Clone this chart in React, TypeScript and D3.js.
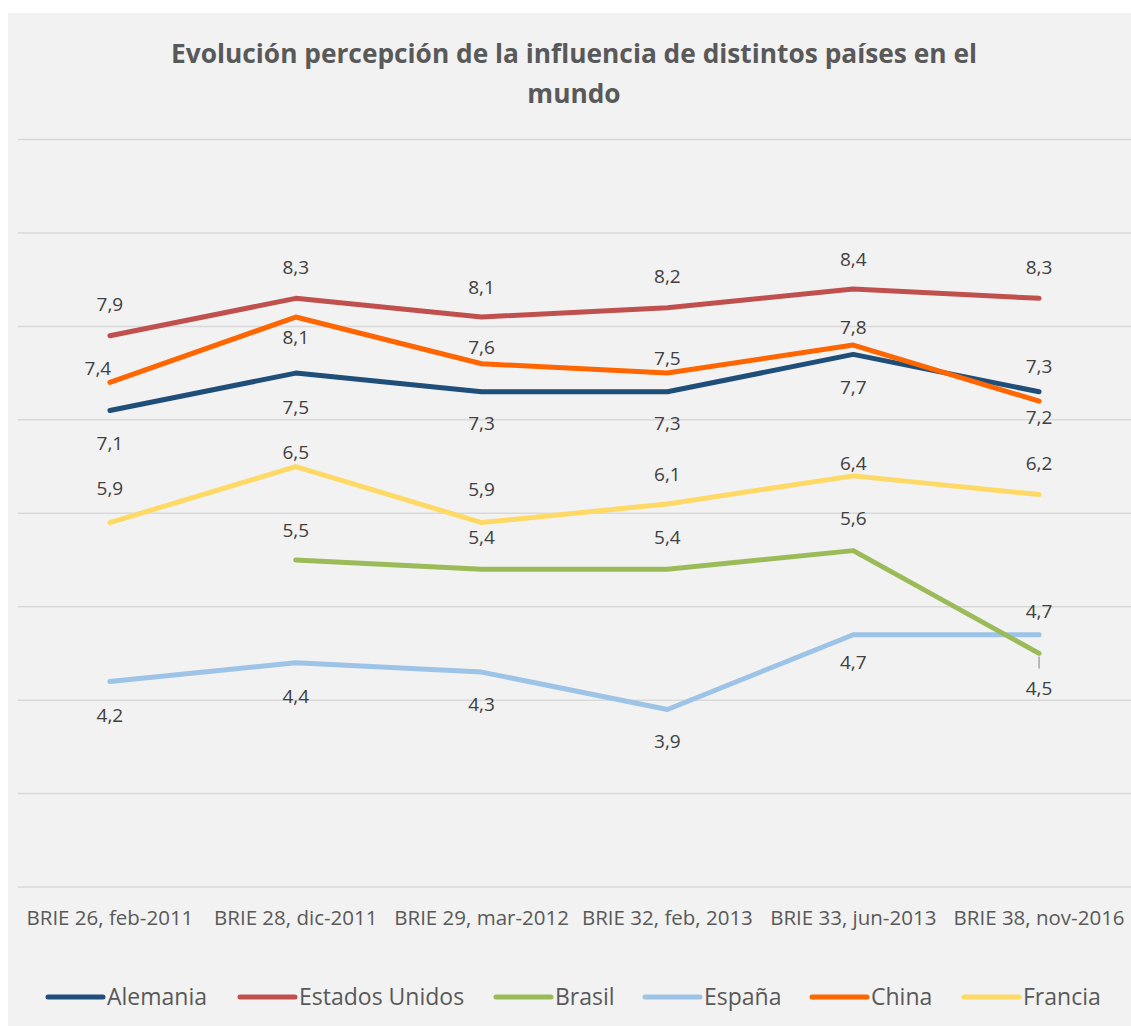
import React from 'react';
import * as d3 from 'd3';

const categories = [
  'BRIE 26, feb-2011',
  'BRIE 28, dic-2011',
  'BRIE 29, mar-2012',
  'BRIE 32, feb, 2013',
  'BRIE 33, jun-2013',
  'BRIE 38, nov-2016',
];

const alemania = [7.1, 7.5, 7.3, 7.3, 7.7, 7.3];
const estadosUnidos = [7.9, 8.3, 8.1, 8.2, 8.4, 8.3];
const brasil: (number | null)[] = [null, 5.5, 5.4, 5.4, 5.6, 4.5];
const espana = [4.2, 4.4, 4.3, 3.9, 4.7, 4.7];
const china = [7.4, 8.1, 7.6, 7.5, 7.8, 7.2];
const francia = [5.9, 6.5, 5.9, 6.1, 6.4, 6.2];

const yTicks = [2, 3, 4, 5, 6, 7, 8, 9, 10];

const titleLines = ['Evolución percepción de la influencia de distintos países en el', 'mundo'];

// label placement (px offsets of the label centre from its point)
const labelDy: Record<string, number[]> = {
  Alemania: [33, 34, 32, 32, 33, -25],
  'Estados Unidos': [-31, -31, -30, -31, -30, -31],
  Brasil: [0, -30, -32, -32, -32, 35],
  España: [34, 34, 32, 32, 28, -23],
  China: [-14, 20, -16, -15, -18, 16],
  Francia: [-34, -14, -33, -30, -13, -31],
};
const labelDx: Record<string, number[]> = {
  China: [-12, 0, 0, 0, 0, 0],
};

const series = [
  { name: 'Alemania', values: alemania, color: '#1f4e79' },
  { name: 'Estados Unidos', values: estadosUnidos, color: '#c0504d' },
  { name: 'Brasil', values: brasil, color: '#9bbb59' },
  { name: 'España', values: espana, color: '#9dc3e6' },
  { name: 'China', values: china, color: '#ff6600' },
  { name: 'Francia', values: francia, color: '#ffd966' },
];
const drawOrder = ['Alemania', 'Estados Unidos', 'España', 'Brasil', 'China', 'Francia'];

const legendX = [48, 240, 496, 645, 812, 964];

const W = 1131;
const H = 1026;
const FONT = "'Open Sans', sans-serif";

export default function App() {
  const x = d3.scaleBand<string>().domain(categories).range([17, 1132]);
  const y = d3.scaleLinear().domain([2, 10]).range([887, 139.5]);
  const cx = (c: string) => (x(c) ?? 0) + x.bandwidth() / 2;

  const line = d3
    .line<number | null>()
    .defined((d) => d != null)
    .x((_, i) => cx(categories[i]))
    .y((d) => y(d as number));

  const ordered = drawOrder.map((n) => series.find((s) => s.name === n)!);

  return (
    <svg width={W} height={H} style={{ position: 'fixed', left: 0, top: 0 }} fontFamily={FONT}>
      <rect x={0} y={0} width={W} height={H} fill="#ffffff" />
      <rect x={8} y={13} width={W - 8} height={H - 13} fill="#f2f2f2" />

      {titleLines.map((t, i) => (
        <text
          key={t}
          x={574}
          y={63 + i * 40}
          textAnchor="middle"
          fontSize={26.3}
          fontWeight={700}
          fill="#595959"
        >
          {t}
        </text>
      ))}

      {yTicks.map((t) => (
        <line key={t} x1={18} x2={W} y1={y(t)} y2={y(t)} stroke="#d9d9d9" strokeWidth={1.5} />
      ))}

      {categories.map((c) => (
        <text key={c} x={cx(c)} y={925} textAnchor="middle" fontSize={20.5} fill="#595959">
          {c}
        </text>
      ))}

      {ordered.map((s) => (
        <path
          key={s.name}
          d={line(s.values) ?? ''}
          fill="none"
          stroke={s.color}
          strokeWidth={5}
          strokeLinecap="round"
          strokeLinejoin="round"
        />
      ))}

      {/* leader line for Brasil last label */}
      <line
        x1={cx(categories[5])}
        x2={cx(categories[5])}
        y1={y(brasil[5] as number) + 3}
        y2={y(brasil[5] as number) + 15}
        stroke="#a6a6a6"
        strokeWidth={1.5}
      />

      {series.map((s) =>
        s.values.map((v, i) =>
          v == null ? null : (
            <text
              key={s.name + i}
              x={cx(categories[i]) + (labelDx[s.name]?.[i] ?? 0)}
              y={y(v) + labelDy[s.name][i]}
              dy="0.35em"
              textAnchor="middle"
              fontSize={19}
              fill="#404040"
            >
              {d3.format('.1f')(v).replace('.', ',')}
            </text>
          )
        )
      )}

      {series.map((s, i) => (
        <g key={s.name} transform={`translate(${legendX[i]},997)`}>
          <line x1={0} x2={55} y1={0} y2={0} stroke={s.color} strokeWidth={5} strokeLinecap="round" />
          <text x={59} y={8} fontSize={23} fill="#595959">
            {s.name}
          </text>
        </g>
      ))}
    </svg>
  );
}
